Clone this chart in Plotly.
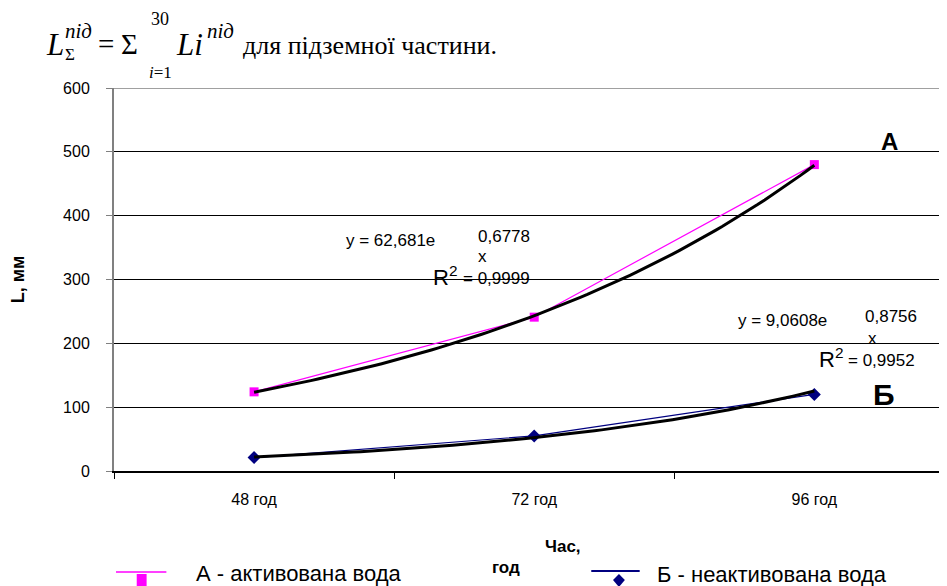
import numpy as np
import plotly.graph_objects as go

categories = ["48 год", "72 год", "96 год"]
series_a = [124, 241, 480]
series_b = [21, 55, 120]
trend_a_coef = (62.681, 0.6778)
trend_b_coef = (9.0608, 0.8756)
y_ticks = [0, 100, 200, 300, 400, 500, 600]

xi = list(range(len(categories)))
tt = np.linspace(1, 3, 80)
trend_a = trend_a_coef[0] * np.exp(trend_a_coef[1] * tt)
trend_b = trend_b_coef[0] * np.exp(trend_b_coef[1] * tt)

OFF = 8  # page body margin
W, H = 947 - OFF, 586 - OFF
L, T, B = 104 - OFF, 88 - OFF, 586 - 471
PW, PH = W - L, H - T - B
px_per = 283.5
xmax = PW / px_per - 0.5


def px(x):
    return (x - 104) / PW


def py(y):
    return (471 - y) / PH


fig = go.Figure()
fig.add_trace(go.Scatter(x=xi, y=series_a, mode="lines+markers",
                         line=dict(color="#FF00FF", width=1.2),
                         marker=dict(symbol="square", size=9, color="#FF00FF"),
                         showlegend=False))
fig.add_trace(go.Scatter(x=xi, y=series_b, mode="lines+markers",
                         line=dict(color="#000080", width=1.2),
                         marker=dict(symbol="diamond", size=10, color="#000080"),
                         showlegend=False))
fig.add_trace(go.Scatter(x=tt - 1, y=trend_a, mode="lines",
                         line=dict(color="black", width=3), showlegend=False))
fig.add_trace(go.Scatter(x=tt - 1, y=trend_b, mode="lines",
                         line=dict(color="black", width=3), showlegend=False))

fig.update_layout(
    width=W, height=H,
    margin=dict(l=L, r=0, t=T, b=B),
    paper_bgcolor="white", plot_bgcolor="white",
    font=dict(family="Liberation Sans, Arial, sans-serif", color="black", size=16),
    xaxis=dict(range=[-0.5, xmax], tickvals=xi, ticktext=categories,
               ticks="", showgrid=False, zeroline=False,
               showline=True, linecolor="black", linewidth=1.5,
               tickfont=dict(size=16), ticklabelstandoff=13,
               minor=dict(tickvals=[-0.5, 0.5, 1.5, 2.5], ticks="outside",
                          ticklen=6, tickcolor="black", tickwidth=1, showgrid=False)),
    yaxis=dict(range=[0, 600], tickvals=y_ticks, ticks="outside", ticklen=6,
               tickcolor="#808080", showgrid=True, gridcolor="black", gridwidth=1,
               zeroline=False, showline=True, linecolor="#808080", linewidth=2,
               tickfont=dict(size=16), ticklabelstandoff=13,
               title=dict(text="<b>L, мм</b>", font=dict(size=18), standoff=42)),
)

ann = []
DX = -5


def A(x, y, text, size=14, family=None, xanchor="left", yanchor="middle"):
    if xanchor == "left":
        x = x + DX
    d = dict(x=px(x), y=py(y), xref="paper", yref="paper", text=text, showarrow=False,
             font=dict(size=size, color="black"), xanchor=xanchor, yanchor=yanchor)
    if family:
        d["font"]["family"] = family
    ann.append(d)


serif = "Liberation Serif, Times New Roman, serif"
# title formula
A(38, 44, "<i>L</i>", 31, family=serif)
A(57, 31, "<i>під</i>", 21, family=serif)
A(57, 55, "Σ", 17, family=serif)
A(91, 44, "=", 29, family=serif)
A(114, 44, "Σ", 29, family=serif)
A(144, 19, "30", 18, family=serif)
A(142, 72, "<i>i</i>=1", 17, family=serif)
A(170, 44, "<i>Li</i>", 31, family=serif)
A(201, 31, "<i>під</i>", 21, family=serif)
A(238, 45, "для підземної частини.", 26, family=serif)

# trend annotations
A(342, 240, "y = 62,681e", 17)
A(475, 236, "0,6778", 17)
A(475, 256, "x", 17)
A(430, 276, "R<sup>2</sup>", 22)
A(460, 278, "= 0,9999", 17)
A(738, 320, "y = 9,0608e", 17)
A(867, 316, "0,8756", 17)
A(870, 338, "x", 17)
A(820, 358, "R<sup>2</sup>", 22)
A(850, 360, "= 0,9952", 17)
A(889, 141, "<b>А</b>", 24, xanchor="center")
A(883, 394, "<b>Б</b>", 30, xanchor="center")

# x axis title
A(558, 546, "<b>Час,</b>", 17, xanchor="center")
A(501, 567, "<b>год</b>", 17, xanchor="center")

# legend text
A(190, 573, "А - активована вода", 22)
A(656, 574, "Б - неактивована вода", 22)
fig.update_layout(annotations=ann)

shapes = [
    dict(type="line", xref="paper", yref="y", x0=0, x1=1, y0=600, y1=600,
         line=dict(color="#808080", width=1.5)),
    dict(type="line", xref="paper", yref="paper", x0=px(106), x1=px(157), y0=py(572), y1=py(572),
         line=dict(color="#FF00FF", width=1.5)),
    dict(type="rect", xref="paper", yref="paper", x0=px(127), x1=px(137), y0=py(574), y1=py(586),
         fillcolor="#FF00FF", line=dict(width=0)),
    dict(type="line", xref="paper", yref="paper", x0=px(587), x1=px(636), y0=py(571), y1=py(571),
         line=dict(color="#000080", width=2)),
    dict(type="path", xref="paper", yref="paper",
         path=f"M {px(615)},{py(574)} L {px(621)},{py(580)} L {px(615)},{py(587)} L {px(609)},{py(580)} Z",
         fillcolor="#000080", line=dict(width=0)),
]
fig.update_layout(shapes=shapes)

fig.write_html("out.html")
